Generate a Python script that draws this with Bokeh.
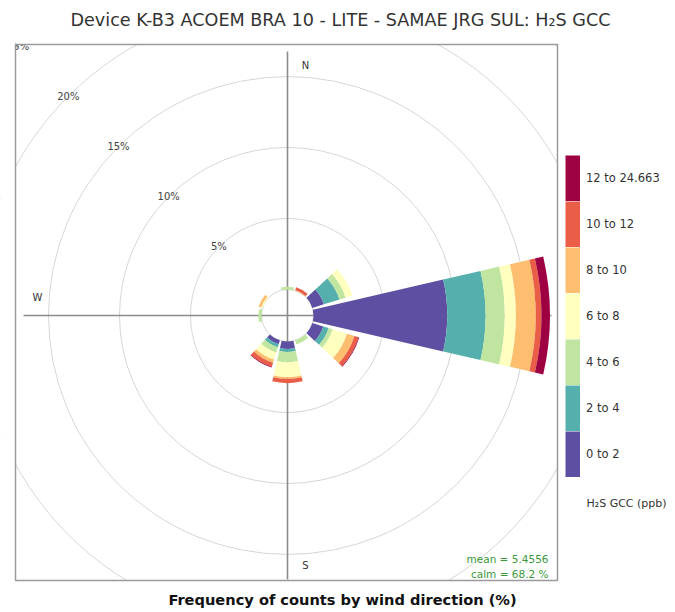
import numpy as np
from bokeh.plotting import figure
from bokeh.models import Range1d, ColumnDataSource, Legend, LegendItem
from bokeh.core.properties import value
from bokeh.embed import file_html
from bokeh.resources import INLINE

# ---------------- data ----------------
directions = [0, 30, 60, 90, 120, 150, 180, 210, 240, 270, 300, 330]
bin_labels = ["0 to 2", "2 to 4", "4 to 6", "6 to 8", "8 to 10", "10 to 12", "12 to 24.663"]
bin_colors = ["#5E4FA2", "#55AFAD", "#BFE5A0", "#FFFFBF", "#FDBF6F", "#EA5D47", "#9E0142"]

freq_0_2 = [0.00, 0.00, 0.85, 9.42, 0.80, 0.00, 0.52, 0.28, 0.00, 0.00, 0.00, 0.00]
freq_2_4 = [0.00, 0.00, 1.15, 2.70, 0.40, 0.00, 0.22, 0.23, 0.00, 0.00, 0.00, 0.00]
freq_4_6 = [0.20, 0.00, 0.45, 1.35, 0.30, 0.30, 0.72, 0.38, 0.00, 0.22, 0.00, 0.00]
freq_6_8 = [0.00, 0.00, 0.50, 0.78, 1.05, 0.00, 1.05, 0.52, 0.00, 0.00, 0.10, 0.00]
freq_8_10 = [0.00, 0.05, 0.00, 1.40, 0.55, 0.00, 0.12, 0.23, 0.00, 0.00, 0.20, 0.00]
freq_10_12 = [0.00, 0.20, 0.00, 0.40, 0.30, 0.00, 0.30, 0.30, 0.00, 0.00, 0.00, 0.00]
freq_12_max = [0.00, 0.00, 0.00, 0.60, 0.05, 0.00, 0.00, 0.05, 0.00, 0.00, 0.00, 0.00]

ring_levels = [5, 10, 15, 20, 25]
ring_labels = ["5%", "10%", "15%", "20%", "25%"]
compass_labels = ["N", "E", "S", "W"]

title_text = "Device K-B3 ACOEM BRA 10 - LITE - SAMAE JRG SUL: H\u2082S GCC"
caption_text = "Frequency of counts by wind direction (%)"
legend_title = "H\u2082S GCC (ppb)"
mean_value = 5.4556
calm_pct = 68.2

# ---------------- layout ----------------
W, H = 670, 610
CX, CY = 287, 315          # rose centre in pixels
S = 14.2                   # pixels per percent
OFFSET = 26 / S            # calm circle radius (percent units)
HALF = np.deg2rad(13)      # half petal width
AXIS_EXT = 264 / S
FONT = "DejaVu Sans"


def dx(px):
    return (px - CX) / S


def dy(py):
    return (CY - py) / S


p = figure(width=W, height=H,
           x_range=Range1d(dx(0), dx(W)),
           y_range=Range1d(dy(H), dy(0)),
           x_axis_type=None, y_axis_type=None,
           toolbar_location=None, output_backend="svg", min_border=0)
p.outline_line_color = None
p.background_fill_color = "white"
p.border_fill_color = "white"

# grid rings and calm circle
radii = [OFFSET + lv for lv in ring_levels] + [OFFSET]
p.circle(x=[0] * len(radii), y=[0] * len(radii), radius=radii,
         fill_color=None, line_color="#d6d6d6", line_width=1)

# axes lines
p.segment(x0=[0, -AXIS_EXT], y0=[-AXIS_EXT, 0], x1=[0, AXIS_EXT], y1=[AXIS_EXT, 0],
          line_color="#8c8c8c", line_width=1.6)

# compass labels (E lies under the big petal)
ca = 18 / S
cr = 250 / S
p.text(x=[ca, cr, ca, -cr], y=[cr, ca, -cr, ca], text=compass_labels,
       text_font=value(FONT), text_font_size="10px", text_color="#333333",
       text_align="center", text_baseline="middle")

# petals
vals = np.array([freq_0_2, freq_2_4, freq_4_6, freq_6_8, freq_8_10, freq_10_12, freq_12_max])
cum = np.cumsum(vals, axis=0)
inner = OFFSET + cum - vals
outer = OFFSET + cum
theta = np.deg2rad(90 - np.array(directions, dtype=float))
for i, color in enumerate(bin_colors):
    m = vals[i] > 0
    n = int(m.sum())
    src = ColumnDataSource(dict(x=np.zeros(n), y=np.zeros(n),
                                r0=inner[i][m], r1=outer[i][m],
                                a0=theta[m] - HALF, a1=theta[m] + HALF))
    p.annular_wedge(x="x", y="y", inner_radius="r0", outer_radius="r1",
                    start_angle="a0", end_angle="a1", source=src,
                    fill_color=color, line_color=None)

# ring labels along NW
la = np.deg2rad(135)
lr = np.array([OFFSET + lv for lv in ring_levels])
p.text(x=lr * np.cos(la), y=lr * np.sin(la), text=ring_labels,
       text_font=value(FONT), text_font_size="10px", text_color="#444444",
       text_align="center", text_baseline="middle")

# panel clipping masks and border
PL, PR, PT, PB = dx(15), dx(557), dy(44), dy(580)
BIG = 1000
p.quad(left=[-BIG, PR, PL, PL], right=[PL, BIG, PR, PR],
       bottom=[-BIG, -BIG, PT, -BIG], top=[BIG, BIG, BIG, PB],
       fill_color="white", line_color=None)
p.quad(left=[PL], right=[PR], top=[PT], bottom=[PB], fill_color=None,
       line_color="#9a9a9a", line_width=1.5)

# title and caption
p.text(x=[dx(340)], y=[dy(19)], text=[title_text], text_font=value(FONT),
       text_font_size="17.6px", text_color="#333333", text_align="center",
       text_baseline="middle")
p.text(x=[dx(342)], y=[dy(599)], text=[caption_text], text_font=value(FONT),
       text_font_size="14.6px", text_font_style="bold", text_color="#111111",
       text_align="center", text_baseline="middle")

# mean / calm
p.text(x=[dx(548), dx(548)], y=[dy(558), dy(573)],
       text=[f"mean = {mean_value}", f"calm = {calm_pct} %"],
       text_font=value(FONT), text_font_size="10.5px", text_color="#3a9a3a",
       text_align="right", text_baseline="middle")

# legend (colour blocks)
items = []
for label, color in reversed(list(zip(bin_labels, bin_colors))):
    r = p.line(x=[np.nan, np.nan], y=[np.nan, np.nan], line_color=color,
               line_width=46, line_cap="butt")
    items.append(LegendItem(label=label, renderers=[r]))
legend = Legend(items=items, location=(565, H - 477), glyph_width=15, glyph_height=46,
                label_height=46, spacing=0, padding=0, margin=0, label_standoff=6,
                border_line_color=None, background_fill_alpha=0,
                label_text_font=FONT, label_text_font_size="11.5px",
                label_text_color="#333333")
p.add_layout(legend)

p.text(x=[dx(586)], y=[dy(503)], text=[legend_title], text_font=value(FONT),
       text_font_size="11px", text_color="#333333", text_align="left",
       text_baseline="middle")

open("out.html", "w").write(file_html(p, INLINE))
